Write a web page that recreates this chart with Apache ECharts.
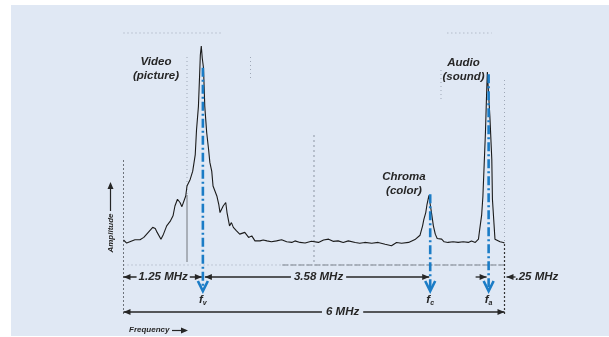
<!DOCTYPE html>
<html>
<head>
<meta charset="utf-8">
<script src="https://cdn.jsdelivr.net/npm/echarts@6/dist/echarts.min.js"></script>
<style>html,body{margin:0;padding:0;background:#fff}#c{width:609px;height:337px}</style>
</head>
<body>
<div id="c"></div>
<script>
// Spectrum of a TV channel: frequency (MHz from channel low edge) vs relative amplitude
const freqMHz = [0.00,0.05,0.10,0.18,0.26,0.32,0.39,0.46,0.50,0.53,0.59,0.63,0.68,0.74,0.78,0.81,0.85,0.89,0.92,0.95,
  0.98,1.00,1.05,1.09,1.13,1.15,1.18,1.20,1.21,1.225,1.24,1.26,1.28,1.31,1.34,1.36,1.39,1.41,1.47,1.50,
  1.52,1.57,1.61,1.63,1.67,1.70,1.73,1.78,1.83,1.91,1.97,2.02,2.07,2.15,2.20,2.26,2.33,2.41,2.49,2.57,
  2.65,2.70,2.78,2.86,2.96,3.07,3.15,3.23,3.30,3.38,3.46,3.54,3.65,3.72,3.80,3.91,4.01,4.12,4.22,4.30,
  4.38,4.49,4.59,4.67,4.71,4.73,4.76,4.78,4.81,4.82,4.83,4.85,4.88,4.91,4.94,4.97,5.01,5.05,5.11,5.19,
  5.27,5.35,5.43,5.48,5.54,5.59,5.61,5.64,5.66,5.68,5.70,5.72,5.73,5.75,5.77,5.80,5.81,5.83,5.85,5.88,
  5.93,5.98,6.00];
const amplitude = [11.0,9.6,10.2,11.1,11.1,12.2,14.5,16.8,16.3,14.5,11.4,13.7,17.5,19.8,22.1,26.6,29.7,28.2,26.3,26.9,
  31.2,35.8,38.8,42.6,50.2,61.6,72.3,87.7,95.9,100,94.5,89.9,72.3,60.3,52.5,46.6,42.5,35.8,31.2,27.4,
  23.6,26.6,28.2,23.6,17.5,19.0,16.8,15.2,13.7,14.5,12.2,12.9,10.6,10.6,11.0,10.6,10.2,10.6,11.1,10.2,
  9.9,10.6,9.9,9.6,10.4,9.9,11.0,11.4,10.4,10.6,9.9,10.6,9.9,9.5,9.9,9.5,9.9,9.1,8.4,9.9,
  9.5,9.9,11.2,13.2,17.5,20.5,23.6,27.4,31.5,32.0,27.4,23.6,17.5,13.7,11.7,11.0,11.4,10.2,9.9,10.2,
  9.9,10.2,9.9,10.6,9.9,11.4,16.0,22.4,31.1,45.7,60.3,79.9,88.1,77.6,67.6,47.9,29.7,20.5,11.4,10.6,
  10.2,9.9,9.6];
// carriers
const carrierSub = ['v', 'c', 'a'];
const carrierFreq = [1.25, 4.83, 5.75];
const carrierLevel = [90, 32, 87];
const peakLabels = ['Video\n(picture)', 'Chroma\n(color)', 'Audio\n(sound)'];
const spanLabels = ['1.25 MHz', '3.58 MHz', '.25 MHz', '6 MHz'];
const channelWidth = [0, 6];

const n = Math.min(freqMHz.length, amplitude.length);
const curve = [];
for (let i = 0; i < n; i++) curve.push([freqMHz[i], amplitude[i]]);

const chart = echarts.init(document.getElementById('c'), null, {renderer: 'canvas'});
chart.setOption({
  backgroundColor: '#ffffff',
  animation: false,
  grid: {left: 123.5, top: 46, width: 381, height: 218},
  xAxis: {type: 'value', min: channelWidth[0], max: channelWidth[1], show: false},
  yAxis: {type: 'value', min: 0, max: 100, show: false},
  series: [{
    type: 'line', data: curve, symbol: 'none', z: 3,
    lineStyle: {color: '#1b1b1b', width: 1.1}
  }]
});

const BG = '#e0e8f4';
const BLUE = '#1b7cc6';
const INK = '#262626';
const FONT = '"Liberation Sans", Arial, sans-serif';
function P(f, a) { return chart.convertToPixel({gridIndex: 0}, [f, a]); }
const x0 = P(channelWidth[0], 0)[0];
const x6 = P(channelWidth[1], 0)[0];
const yb = P(0, 0)[1];
const yTop = P(0, 100)[1];
const row1 = yb + 13, row2 = yb + 48;
const g = [];
function line(x1, y1, x2, y2, style, z) {
  g.push({type: 'line', z: z || 1, shape: {x1, y1, x2, y2}, style: Object.assign({stroke: INK, lineWidth: 1.3}, style)});
}
function head(x, y, dir, z) { // filled arrowhead, dir=+1 right, -1 left, 'up'
  let pts;
  if (dir === 'up') pts = [[x, y], [x - 3, y + 7], [x + 3, y + 7]];
  else pts = [[x, y], [x - dir * 7, y - 3], [x - dir * 7, y + 3]];
  g.push({type: 'polygon', z: z || 2, shape: {points: pts}, style: {fill: INK}});
}
function txt(x, y, s, size, align, extra) {
  g.push({type: 'text', z: 4, x, y, style: Object.assign({
    text: s, fill: INK, font: 'italic bold ' + size + 'px ' + FONT,
    textAlign: align || 'center', textVerticalAlign: 'middle'
  }, extra || {})});
}

// panel background
g.push({type: 'rect', z: 0, shape: {x: 11, y: 5, width: 609 - 11, height: 331}, style: {fill: BG}});

// faint remnants of the graticule
const faint = {stroke: '#9ea7b6', lineWidth: 1, lineDash: [1, 3]};
line(x0, 33, P(1.55, 0)[0], 33, faint);
line(P(5.1, 0)[0], 33, P(5.8, 0)[0], 33, faint);
line(P(1, 0)[0], 57, P(1, 0)[0], 195, faint);
line(P(1, 0)[0], 195, P(1, 0)[0], yb - 2, {stroke: '#55585e', lineWidth: 0.8});
line(P(2, 0)[0], 57, P(2, 0)[0], 80, faint);
line(P(3, 0)[0], 135, P(3, 0)[0], yb - 2, {stroke: '#8d95a3', lineWidth: 1, lineDash: [2, 3]});
line(P(5, 0)[0], 70, P(5, 0)[0], 100, faint);
line(x6, 80, x6, yb - 20, faint);
// bottom baseline
line(x0, yb + 1, x6, yb + 1, faint);
line(P(2.5, 0)[0], yb + 1, x6, yb + 1, {stroke: '#7d838d', lineWidth: 1, lineDash: [6, 2]});
// channel edges
line(x0, 160, x0, row2 + 2, {stroke: '#6e737b', lineWidth: 1, lineDash: [2, 2]});
line(x6, yb - 20, x6, row2 + 2, {stroke: '#333', lineWidth: 1.2, lineDash: [2, 2]});

// dimension arrows, row 1
const cx = carrierFreq.map(f => P(f, 0)[0]);
line(x0, row1, cx[0] - 1, row1); head(x0, row1, -1); head(cx[0] - 1, row1, 1);
txt((x0 + cx[0]) / 2, row1, spanLabels[0], 11.5, 'center', {backgroundColor: BG, padding: [0, 2]});
line(cx[0] + 2, row1, cx[1] - 1, row1); head(cx[0] + 2, row1, -1); head(cx[1] - 1, row1, 1);
txt((cx[0] + cx[1]) / 2 + 2, row1, spanLabels[1], 11.5, 'center', {backgroundColor: BG, padding: [0, 3]});
line(cx[2] - 13, row1, cx[2] - 2, row1); head(cx[2] - 2, row1, 1);
line(x6 + 2, row1, x6 + 11, row1); head(x6 + 2, row1, -1);
txt(x6 + 11, row1, spanLabels[2], 11.5, 'left');
// row 2
line(x0, row2, x6, row2); head(x0, row2, -1); head(x6, row2, 1);
txt(x0 + 0.575 * (x6 - x0), row2, spanLabels[3], 11.5, 'center', {backgroundColor: BG, padding: [0, 4]});

// carriers: blue dash-dot markers with open arrowheads
for (let i = 0; i < carrierFreq.length; i++) {
  const yt = P(carrierFreq[i], carrierLevel[i])[1];
  line(cx[i], yt, cx[i], yb + 26, {stroke: BLUE, lineWidth: 2.6, lineDash: [9, 3, 2, 3]}, 6);
  g.push({type: 'polyline', z: 6, shape: {points: [[cx[i] - 5, yb + 17], [cx[i], yb + 27], [cx[i] + 5, yb + 17]]},
    style: {stroke: BLUE, lineWidth: 2.6, fill: null}});
  g.push({type: 'text', z: 6, x: cx[i], y: yb + 36, style: {
    rich: {f: {fontSize: 11.5, fontStyle: 'italic', fontWeight: 'bold', fontFamily: FONT, fill: INK},
           s: {fontSize: 7, fontStyle: 'italic', fontWeight: 'bold', fontFamily: FONT, fill: INK, padding: [6, 0, 0, 0]}},
    text: '{f|f}{s|' + carrierSub[i] + '}', textAlign: 'center', textVerticalAlign: 'middle'}});
}

// peak labels
const lab = {lineHeight: 14, textVerticalAlign: 'top'};
txt(156, 55, peakLabels[0], 11.5, 'center', lab);
txt(404, 170, peakLabels[1], 11.5, 'center', lab);
txt(463.5, 56, peakLabels[2], 11.5, 'center', lab);

// axis captions
txt(129, 330, 'Frequency', 8, 'left');
line(172, 330.5, 186, 330.5, {lineWidth: 1.2}); head(188, 330.5, 1);
g.push({type: 'text', z: 4, x: 110.5, y: 233, rotation: Math.PI / 2, style: {
  text: 'Amplitude', fill: INK, font: 'italic bold 8px ' + FONT, textAlign: 'center', textVerticalAlign: 'middle'}});
line(110.5, 211, 110.5, 188, {lineWidth: 1.2}); head(110.5, 182, 'up');

chart.setOption({graphic: {elements: g}});
</script>
</body>
</html>
